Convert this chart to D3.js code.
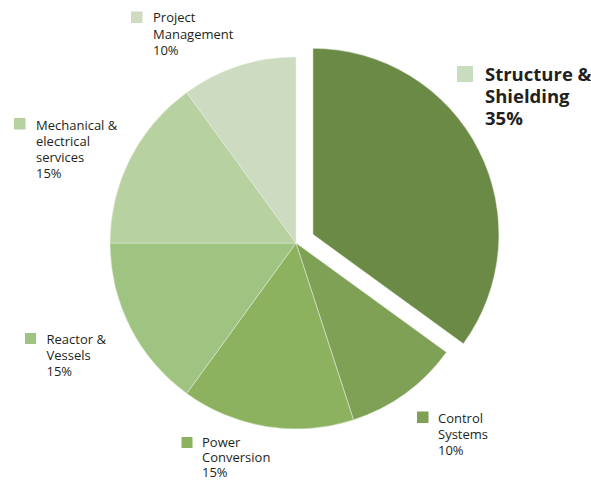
<!DOCTYPE html>
<html>
<head>
<meta charset="UTF-8">
<title></title>
<script src="https://cdn.jsdelivr.net/npm/d3@7/dist/d3.min.js"></script>
<style>
  body { margin: 0; background: #fff; }
  text { font-family: "Open Sans", sans-serif; fill: #231f20; }
</style>
</head>
<body>
<svg width="591" height="482"></svg>
<script>
// slice data, clockwise from 12 o'clock
var names = ["Structure & Shielding", "Control Systems", "Power Conversion", "Reactor & Vessels", "Mechanical & electrical services", "Project Management"];
var values = [35, 10, 15, 15, 15, 10];
var colors = ["#6b8a45", "#7ea155", "#8db25f", "#9fc482", "#b8d1a1", "#cddcc1"];
// legend text lines per slice
var labelLines = [
  ["Structure &", "Shielding", "35%"],
  ["Control", "Systems", "10%"],
  ["Power", "Conversion", "15%"],
  ["Reactor &", "Vessels", "15%"],
  ["Mechanical &", "electrical", "services", "15%"],
  ["Project", "Management", "10%"]
];
var swatchColors = ["#cadcbf", "#7ea155", "#8db25f", "#9fc482", "#b8d1a1", "#cddcc1"];

var svg = d3.select("svg");
var cx = 296, cy = 243, r = 186;
var explode = 19;

var pie = d3.pie().sort(null).value(function(d){ return d; });
var arc = d3.arc().innerRadius(0).outerRadius(r);
var arcs = pie(values);

var g = svg.append("g").attr("transform", "translate(" + cx + "," + cy + ")");

g.selectAll("path")
  .data(arcs)
  .enter()
  .append("path")
  .attr("d", arc)
  .attr("fill", function(d, i){ return colors[i]; })
  .attr("stroke", "#e8efe0")
  .attr("stroke-width", 0.5)
  .attr("transform", function(d, i){
    if (i !== 0) return null;
    var a = (d.startAngle + d.endAngle) / 2;
    return "translate(" + (Math.sin(a) * explode) + "," + (-Math.cos(a) * explode) + ")";
  });

// legend positions (swatch top-left, swatch size, text x, first baseline, line height, font size, weight)
var legend = [
  {sx: 457, sy: 66, s: 16, tx: 485, ty: 81, lh: 22, fs: 18.5, fw: 700},
  {sx: 417, sy: 411.5, s: 11.5, tx: 438, ty: 423, lh: 16, fs: 13, fw: 400},
  {sx: 181.5, sy: 437, s: 11, tx: 202, ty: 447, lh: 15, fs: 13, fw: 400},
  {sx: 25, sy: 333, s: 11, tx: 46.5, ty: 344, lh: 16, fs: 13, fw: 400},
  {sx: 14, sy: 118, s: 11.5, tx: 36, ty: 129.5, lh: 16.2, fs: 13, fw: 400},
  {sx: 131, sy: 11.5, s: 11.5, tx: 153, ty: 22, lh: 16.5, fs: 13, fw: 400}
];

var items = svg.selectAll("g.legend")
  .data(legend)
  .enter()
  .append("g")
  .attr("class", "legend");

items.append("rect")
  .attr("x", function(d){ return d.sx; })
  .attr("y", function(d){ return d.sy; })
  .attr("width", function(d){ return d.s; })
  .attr("height", function(d){ return d.s; })
  .attr("fill", function(d, i){ return swatchColors[i]; });

items.each(function(d, i){
  var t = d3.select(this).append("text")
    .attr("font-size", d.fs)
    .attr("font-weight", d.fw);
  labelLines[i].forEach(function(line, j){
    t.append("tspan")
      .attr("x", d.tx)
      .attr("y", d.ty + j * d.lh)
      .text(line);
  });
});
</script>
</body>
</html>
